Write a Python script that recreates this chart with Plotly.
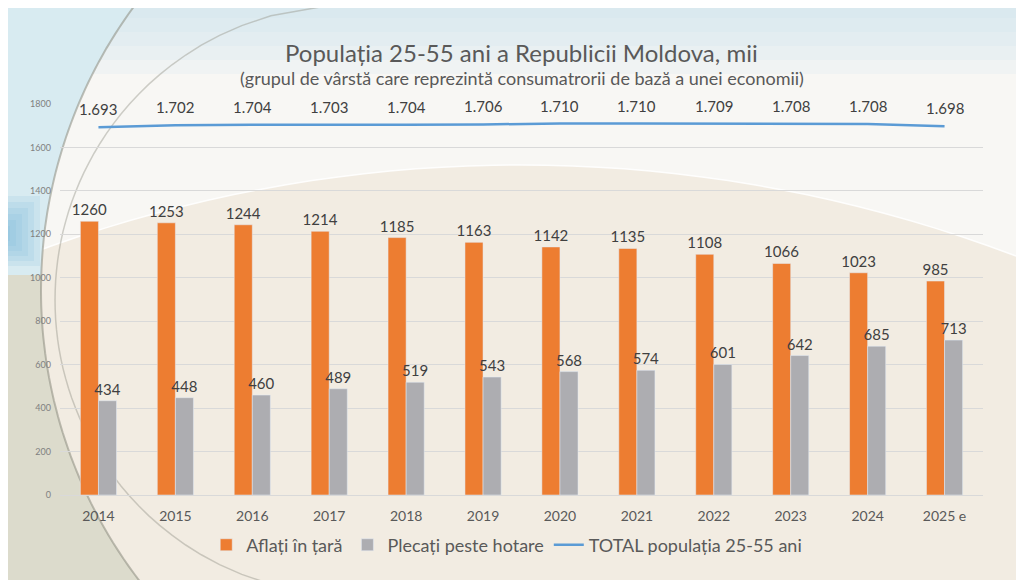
import math
import plotly.graph_objects as go

years = ['2014', '2015', '2016', '2017', '2018', '2019', '2020', '2021', '2022', '2023', '2024', '2025 e']
in_country = [1260, 1253, 1244, 1214, 1185, 1163, 1142, 1135, 1108, 1066, 1023, 985]
abroad = [434, 448, 460, 489, 519, 543, 568, 574, 601, 642, 685, 713]
total = [1693, 1702, 1704, 1703, 1704, 1706, 1710, 1710, 1709, 1708, 1708, 1698]

ORANGE = '#ED7D31'
GRAY = '#ADADB1'
BLUE = '#5B9BD5'
TXT = '#595959'
LBL = '#404040'
FONT = 'Lato'

W, H = 1024, 580
M = dict(l=52, r=49, t=96, b=93)


def thousands(v):
    return f'{v:,}'.replace(',', '.')


# page pixel -> paper coords (the page body adds an 8px offset)
def px(x):
    return (x - 8 - M['l']) / (W - M['l'] - M['r'])


def py(y):
    return (H - M['b'] - (y - 8)) / (H - M['t'] - M['b'])


def arc_x(cx, cy, r, y0, y1, n=40):
    """Points on the left side of a circle (page pixels), for y in [y0, y1]."""
    pts = []
    for i in range(n + 1):
        y = y0 + (y1 - y0) * i / n
        d = r * r - (y - cy) ** 2
        if d >= 0:
            pts.append((cx - math.sqrt(d), y))
    return pts


def arc_y(cx, cy, r, x0, x1, n=40):
    """Points on the top side of a circle (page pixels), for x in [x0, x1]."""
    return [(x, cy - math.sqrt(r * r - (x - cx) ** 2))
            for x in (x0 + (x1 - x0) * i / n for i in range(n + 1))]


def path(pts, close=True):
    s = 'M ' + ' L '.join(f'{px(x):.4f},{py(y):.4f}' for x, y in pts)
    return s + (' Z' if close else '')


fig = go.Figure()

fig.add_trace(go.Bar(
    x=years, y=in_country, name='Aflați în țară',
    marker_color=ORANGE,
    text=[str(v) for v in in_country], textposition='outside', constraintext='none',
    textfont=dict(size=15, color=LBL, family=FONT),
    cliponaxis=False,
))
fig.add_trace(go.Bar(
    x=years, y=abroad, name='Plecați peste hotare',
    marker_color=GRAY,
    text=[str(v) for v in abroad], textposition='outside', constraintext='none',
    textfont=dict(size=15, color=LBL, family=FONT),
    cliponaxis=False,
))
fig.add_trace(go.Scatter(
    x=years, y=total, name='TOTAL populația 25-55 ani',
    mode='lines',
    line=dict(color=BLUE, width=2.5),
    cliponaxis=False,
))

annotations = [
    dict(text='Populația 25-55 ani a Republicii Moldova, mii', xref='paper', yref='paper',
         x=0.5, y=1.0, yshift=52, yanchor='middle', showarrow=False,
         font=dict(size=24, color=TXT, family=FONT)),
    dict(text='(grupul de vârstă care reprezintă consumatrorii de bază a unei economii)',
         xref='paper', yref='paper', x=0.5, y=1.0, yshift=26, yanchor='middle', showarrow=False,
         font=dict(size=18, color=TXT, family=FONT)),
]
# labels of the total line, lifted a bit above it like in the original
for i, v in enumerate(total):
    annotations.append(dict(x=i, y=v, xref='x', yref='y', text=thousands(v),
                            showarrow=False, yshift=18,
                            font=dict(size=15, color=LBL, family=FONT)))

# decorative slide background (page pixels converted to paper coords)
big = arc_y(520, 1562, 1397, 0, 1040)
outer_top = arc_x(520, 290, 479, 0, 275)
outer_bot = arc_x(520, 290, 479, 275, 590)
shapes = [
    dict(type='path', xref='paper', yref='paper',
         path=path([(0, 0)] + big + [(1040, 0)]),
         fillcolor='rgba(250,251,250,0.75)', line=dict(color='rgba(255,255,255,0.9)', width=1.5),
         layer='below'),
]
for k in range(5):
    shapes.append(dict(type='rect', xref='paper', yref='paper',
                       x0=px(0), x1=px(1040), y0=py(0), y1=py(18 + k * 14),
                       fillcolor='rgba(200,228,236,0.17)', line_width=0, layer='below'))
shapes += [
    dict(type='path', xref='paper', yref='paper',
         path=path([(0, 0)] + outer_top + [(0, 275)]),
         fillcolor='#D8EBF1', line_width=0, layer='below'),
    dict(type='path', xref='paper', yref='paper',
         path=path([(0, 275)] + outer_bot + [(0, 590)]),
         fillcolor='#DCDBCC', line_width=0, layer='below'),
]
for k in range(6):
    shapes.append(dict(type='rect', xref='paper', yref='paper',
                       x0=px(0), x1=px(40 - k * 6), y0=py(266 - k * 5), y1=py(196 + k * 6),
                       fillcolor='rgba(110,175,215,0.13)', line_width=0, layer='below'))
shapes += [
    dict(type='path', xref='paper', yref='paper', path=path(outer_top + outer_bot, close=False),
         line=dict(color='rgba(140,140,128,0.55)', width=2), layer='below'),
    dict(type='path', xref='paper', yref='paper',
         path=path(arc_x(350, 300, 295, 6, 594, n=60), close=False),
         line=dict(color='rgba(150,150,140,0.45)', width=1.5), layer='below'),
]

fig.update_layout(
    width=W, height=H,
    barmode='group', bargap=0.53, bargroupgap=0,
    paper_bgcolor='#F2ECE2', plot_bgcolor='rgba(0,0,0,0)',
    font=dict(family=FONT, color=TXT),
    margin=M,
    shapes=shapes,
    annotations=annotations,
    showlegend=True,
    legend=dict(orientation='h', x=0.484, xanchor='center', y=-0.128, yanchor='middle',
                font=dict(size=18, color=TXT, family=FONT), bgcolor='rgba(0,0,0,0)',
                traceorder='normal'),
    xaxis=dict(type='category', range=[-0.5, len(years) - 0.5],
               tickfont=dict(size=14, color=TXT), showline=True, ticklabelstandoff=8,
               linecolor='#D9D9D9', ticks='', showgrid=False),
    yaxis=dict(range=[0, 1800], dtick=200, tickfont=dict(size=9, color='#808080'),
               gridcolor='#D9D9D9', gridwidth=1, zeroline=False, ticklabelstandoff=8),
)

fig.write_html('out.html')
